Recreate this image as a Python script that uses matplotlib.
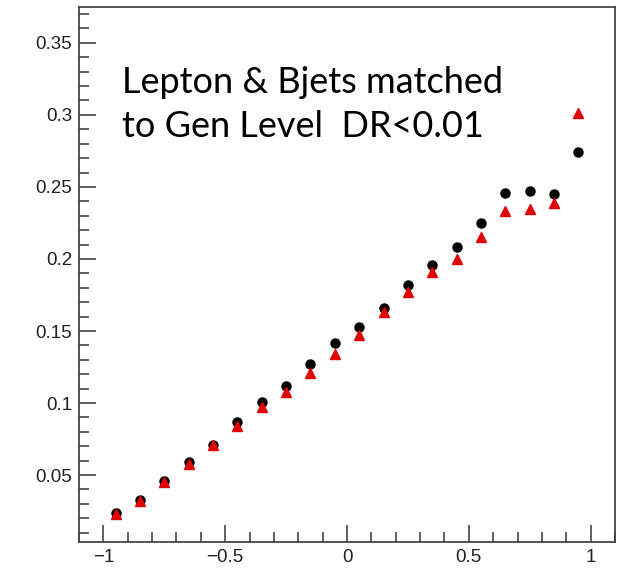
import matplotlib.pyplot as plt
from matplotlib.ticker import MultipleLocator

# bin centres and the two efficiency curves
x_bins = [-0.95, -0.85, -0.75, -0.65, -0.55, -0.45, -0.35, -0.25, -0.15, -0.05,
          0.05, 0.15, 0.25, 0.35, 0.45, 0.55, 0.65, 0.75, 0.85, 0.95]
black_vals = [0.024, 0.033, 0.046, 0.059, 0.071, 0.087, 0.101, 0.112, 0.127, 0.142,
              0.153, 0.166, 0.182, 0.196, 0.208, 0.225, 0.246, 0.247, 0.245, 0.274]
red_vals = [0.023, 0.032, 0.045, 0.058, 0.071, 0.084, 0.097, 0.108, 0.121, 0.134,
            0.147, 0.163, 0.177, 0.191, 0.200, 0.215, 0.233, 0.235, 0.239, 0.301]

plt.rcParams['font.family'] = ['Liberation Sans', 'DejaVu Sans']

fig = plt.figure(figsize=(6.28, 5.70), dpi=100)
ax = fig.add_axes([0.1258, 0.049, 0.8535, 0.939])

ax.plot(x_bins, black_vals, 'o', color='black', ms=6.5, zorder=3)
ax.plot(x_bins, red_vals, '^', color='#e00000', ms=7, zorder=4)

ax.set_xlim(-1.1, 1.1)
ax.set_ylim(0.0035, 0.375)

ax.xaxis.set_minor_locator(MultipleLocator(0.1))
ax.yaxis.set_minor_locator(MultipleLocator(0.01))
ax.set_xticks([-1, -0.5, 0, 0.5, 1])
ax.set_xticklabels(['\u22121', '\u22120.5', '0', '0.5', '1'])
ax.set_yticks([0.05, 0.1, 0.15, 0.2, 0.25, 0.3, 0.35])
ax.set_yticklabels(['0.05', '0.1', '0.15', '0.2', '0.25', '0.3', '0.35'])

ax.tick_params(which='both', direction='in', top=False, right=False,
               color='#444444', width=1.2, labelsize=13.5, labelcolor='#222222')
ax.tick_params(which='major', length=12, pad=5)
ax.tick_params(which='minor', length=7)
for sp in ax.spines.values():
    sp.set_color('#444444')
    sp.set_linewidth(1.3)

ax.text(0.080, 0.757, 'Lepton & Bjets matched\nto Gen Level  DR<0.01',
        transform=ax.transAxes, ha='left', va='baseline', fontsize=26,
        family=['Lato', 'DejaVu Sans'], linespacing=1.42, color='black')

fig.savefig('out.png', dpi=100)
